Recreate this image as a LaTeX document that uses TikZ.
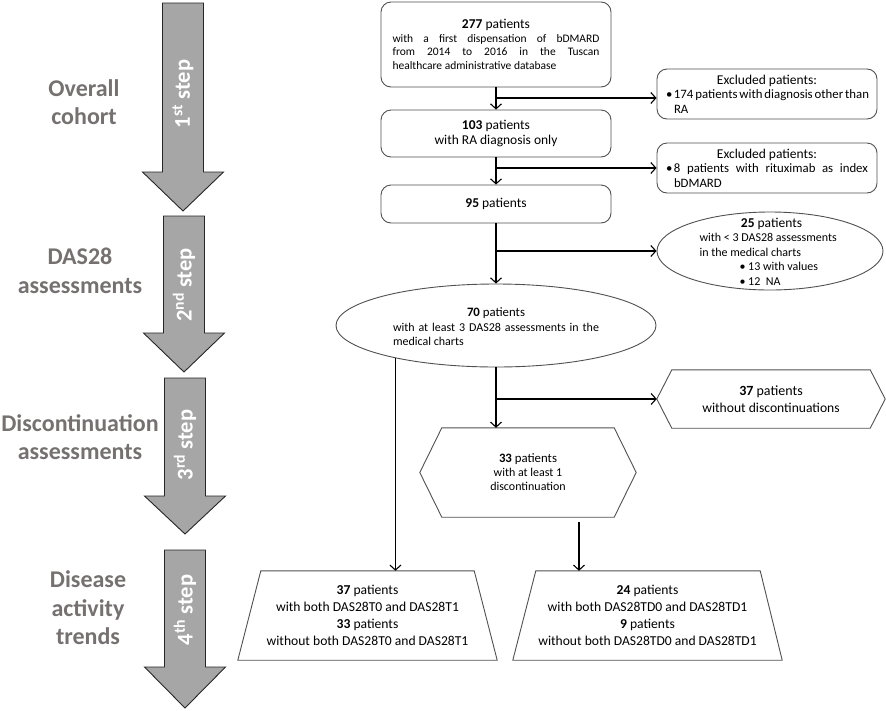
\documentclass[tikz,border=0pt]{standalone}
\usepackage{fontspec}
\setmainfont{Carlito}
\usetikzlibrary{arrows.meta,shapes.geometric}
\definecolor{labelgray}{HTML}{767171}
\definecolor{arrowfill}{HTML}{A6A6A6}
\definecolor{boxline}{HTML}{505050}
\newcommand{\StepArrow}[4]{%
  \draw[steparrow] ({#1-20.5},#2) -- ({#1+20.5},#2) -- ({#1+20.5},#3) -- ({#1+40.5},#3)
    -- (#1,#4) -- ({#1-40.5},#3) -- ({#1-20.5},#3) -- cycle;}
\newcommand{\fs}[2]{\fontsize{#1}{#2}\selectfont}
\begin{document}
\begin{tikzpicture}[x=1pt,y=-1pt,
  box/.style={draw=boxline, line width=0.9pt, rounded corners=10pt, inner sep=0pt},
  shp/.style={draw=boxline, line width=0.9pt},
  plain/.style={inner sep=0pt},
  conn/.style={line width=1.1pt, -{Straight Barb[length=5pt,width=11pt,line width=1.1pt]}},
  steparrow/.style={draw=black!85, fill=arrowfill, line width=0.9pt},
  steptext/.style={text=white, font=\fs{22.5}{26}\bfseries, rotate=90, inner sep=0pt},
  phase/.style={text=labelgray, font=\fs{24}{28.5}\bfseries, align=center, inner sep=0pt},
  small/.style={font=\fs{11.5}{13.6}},
  excl/.style={font=\fs{12.8}{14.5}},
  mid/.style={font=\fs{13.5}{15.5}},
  ell/.style={font=\fs{12}{14.5}},
  hex/.style={font=\fs{12}{14}},
  big/.style={font=\fs{13.6}{17}}
]
\useasboundingbox (0,0) rectangle (886,710);

% step arrows
\StepArrow{183}{3}{172}{211}
\StepArrow{184}{216}{333}{372}
\StepArrow{185}{378}{496}{534}
\StepArrow{185}{550}{667}{708}
\node[steptext] (s1) at (183,94) {1\textsuperscript{st} step};
\node[steptext] (s2) at (184,285) {2\textsuperscript{nd} step};
\node[steptext] (s3) at (185,445) {3\textsuperscript{rd} step};
\node[steptext] (s4) at (185,610) {4\textsuperscript{th} step};

% phase labels
\node[phase] (p1) at (84,102) {Overall\\cohort};
\node[phase] (p2) at (80,271) {DAS28\\assessments};
\node[phase] (p3) at (80,437) {Discontinuation\\assessments};
\node[phase] (p4) at (88,608) {Disease\\activity\\trends};

% main column
\node[box, small, minimum width=230pt, minimum height=85pt, align=center] (n277) at (496,44.5)
  {{\fs{13.5}{15}\textbf{277} patients}\\
   \makebox[207pt][s]{with a first dispensation of bDMARD}\\
   \makebox[207pt][s]{from 2014 to 2016 in the Tuscan}\\
   \makebox[207pt][l]{healthcare administrative database}};
\node[box, mid, minimum width=230pt, minimum height=47pt, align=center] (n103) at (496,133.5)
  {\textbf{103} patients\\with RA diagnosis only};
\node[box, mid, minimum width=230pt, minimum height=38pt, align=center] (n95) at (496,204)
  {\textbf{95} patients};

% exclusion boxes
\node[box, excl, minimum width=220pt, minimum height=50pt, align=center] (ex1) at (767,94)
  {{\fs{13.5}{14.5}Excluded patients:}\\
   \makebox[202pt][s]{\makebox[8pt][l]{\textbullet}174 patients with diagnosis other than}\\
   \makebox[202pt][l]{\hspace*{8pt}RA}};
\node[box, excl, minimum width=220pt, minimum height=50pt, align=center] (ex2) at (767,168)
  {{\fs{13.5}{14.5}Excluded patients:}\\
   \makebox[202pt][s]{\makebox[8pt][l]{\textbullet}8 patients with rituximab as index}\\
   \makebox[202pt][l]{\hspace*{8pt}bDMARD}};

% ellipses
\node[ellipse, shp, minimum width=226pt, minimum height=78pt, inner sep=0pt] (e25) at (770,251) {};
\node[plain, ell, align=center] (t25) at (771.5,251.5)
  {{\fs{13.5}{14.5}\textbf{25} patients}\\
   \makebox[144pt][l]{with < 3 DAS28 assessments}\\
   \makebox[144pt][l]{in the medical charts}\\
   \makebox[144pt][l]{\hspace*{40pt}\textbullet\ 13 with values}\\
   \makebox[144pt][l]{\hspace*{40pt}\textbullet\ 12\ \ NA}};
\node[ellipse, shp, minimum width=320pt, minimum height=83pt, inner sep=0pt] (e70) at (496,325.5) {};
\node[plain, ell, align=center] (t70) at (496,327)
  {{\fs{12.8}{15}\textbf{70} patients}\\
   \makebox[206pt][s]{with at least 3 DAS28 assessments in the}\\
   \makebox[206pt][l]{medical charts}};

% hexagons
\node[plain, hex, align=center, minimum width=216pt, minimum height=89pt] (h33) at (528,472.5)
  {{\fs{12.8}{14}\textbf{33} patients}\\with at least 1\\discontinuation};
\draw[shp] ([xshift=22pt]h33.north west) -- ([xshift=-22pt]h33.north east) -- (h33.east)
  -- ([xshift=-22pt]h33.south east) -- ([xshift=22pt]h33.south west) -- (h33.west) -- cycle;
\node[plain, big, align=center, minimum width=228pt, minimum height=58pt] (h37) at (771,399)
  {{\fs{14}{17}\textbf{37} patients}\\without discontinuations};
\draw[shp] ([xshift=15pt]h37.north west) -- ([xshift=-15pt]h37.north east) -- (h37.east)
  -- ([xshift=-15pt]h37.south east) -- ([xshift=15pt]h37.south west) -- (h37.west) -- cycle;

% trapezoids
\node[plain, big, align=center, minimum width=259pt, minimum height=89pt] (tA) at (367.5,615.5)
  {\textbf{37} patients\\with both DAS28T0 and DAS28T1\\\textbf{33} patients\\without both DAS28T0 and DAS28T1};
\draw[shp] ([xshift=23pt]tA.north west) -- ([xshift=-23pt]tA.north east) -- (tA.south east)
  -- (tA.south west) -- cycle;
\node[plain, big, align=center, minimum width=269pt, minimum height=89pt] (tB) at (647.5,615.5)
  {\textbf{24} patients\\with both DAS28TD0 and DAS28TD1\\\textbf{9} patients\\without both DAS28TD0 and DAS28TD1};
\draw[shp] ([xshift=23pt]tB.north west) -- ([xshift=-22pt]tB.north east) -- (tB.south east)
  -- (tB.south west) -- cycle;

% connectors
\coordinate (b1) at (496,98);
\coordinate (c33) at (579,522);
\draw[conn] (n277.south) -- (n103.north);
\draw[conn] (b1) -- (b1 -| ex1.west);
\draw[conn] (n103.south) -- (n95.north);
\draw[conn] (n103.south |- ex2.west) -- (ex2.west);
\draw[conn] (n95.south) -- (e70.north);
\draw[conn] (n95.south |- e25.west) -- (e25.west);
\draw[conn] (e70.south) -- (e70.south |- h33.north);
\draw[conn] (e70.south |- h37.west) -- (h37.west);
\draw[conn] (e70.198) -- (e70.198 |- tA.north);
\draw[conn] (c33) -- (c33 |- tB.north);
\end{tikzpicture}
\end{document}
